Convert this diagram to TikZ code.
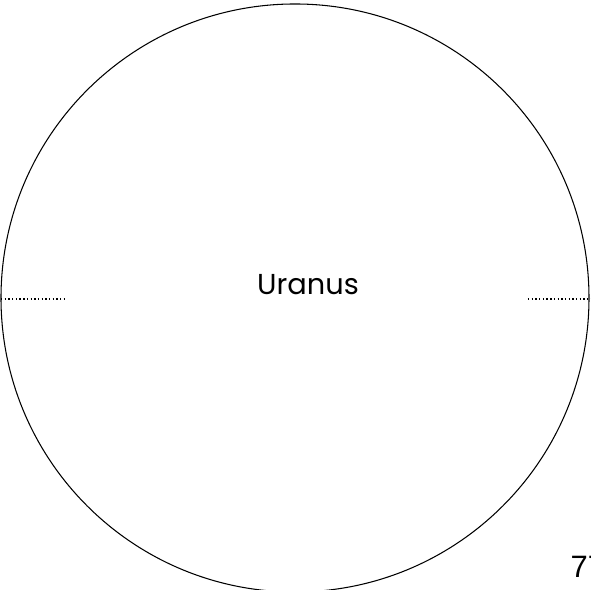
\documentclass[tikz,border=0pt]{standalone}
\usepackage{fontspec}
\setmainfont{Poppins}
\newfontfamily\numfont{Liberation Sans}
\begin{document}
\begin{tikzpicture}[every node/.style={inner sep=0pt}]
    \useasboundingbox (0,0) rectangle (5.91,5.90);
    % El planeta: una circunferencia grande, recortada abajo.
    \begin{scope}
    \clip (0,0) rectangle (5.91,5.90);
    \draw[line width=0.3pt] (2.95,2.92) circle (2.94);
    \coordinate (izq1) at (0.01,2.91);
    \coordinate (izq2) at (0.65,2.91);
    \coordinate (der1) at (5.28,2.91);
    \coordinate (der2) at (5.91,2.91);
    \draw[line width=0.5pt,dash pattern=on 0.4pt off 0.65pt] (izq1) -- (izq2);
    \draw[line width=0.5pt,dash pattern=on 0.4pt off 0.65pt] (der1) -- (der2);
    \node[anchor=base] (nombre) at (3.08,2.95) {\fontsize{8.2}{9}\selectfont Uranus};
    \node[anchor=base west] (pagina) at (5.70,0.12) {\numfont\fontsize{8.8}{10}\selectfont 77};
    \end{scope}
\end{tikzpicture}
\end{document}
